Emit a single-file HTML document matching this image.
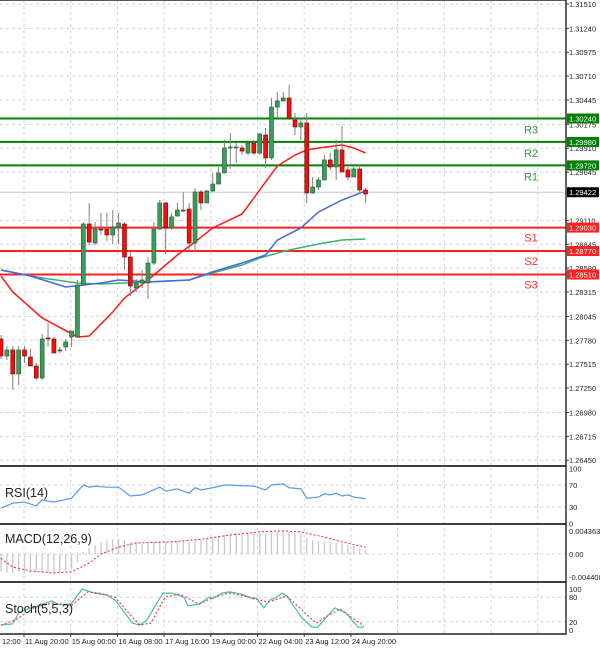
<!DOCTYPE html>
<html><head><meta charset="utf-8">
<style>
html,body{margin:0;padding:0;background:#fff;}
svg{display:block;font-family:"Liberation Sans",sans-serif;}
</style></head>
<body>
<svg id="chart" width="600" height="651" viewBox="0 0 600 651" xmlns="http://www.w3.org/2000/svg"></svg>
<script>
// ---- main price data (OHLC per bar) ----
const opens=[1.27795,1.27606,1.27673,1.27407,1.27673,1.27595,1.27495,1.27362,1.27806,1.27795,1.27662,1.27706,1.27817,1.27817,1.28393,1.29070,1.28859,1.29014,1.29014,1.28948,1.29037,1.29070,1.28704,1.28360,1.28416,1.28416,1.28637,1.29014,1.29303,1.29026,1.29159,1.29214,1.29236,1.28859,1.29425,1.29303,1.29436,1.29513,1.29636,1.29913,1.29913,1.29913,1.29857,1.29968,1.29857,1.30057,1.29802,1.30367,1.30434,1.30467,1.30223,1.30146,1.30190,1.29414,1.29480,1.29558,1.29780,1.29702,1.29891,1.29669,1.29591,1.29680,1.29447];
const closes=[1.27606,1.27673,1.27407,1.27673,1.27606,1.27495,1.27362,1.27795,1.27795,1.27639,1.27673,1.27762,1.27883,1.28393,1.29070,1.28870,1.29014,1.29003,1.28948,1.29037,1.29081,1.28704,1.28382,1.28416,1.28449,1.28637,1.29014,1.29303,1.29026,1.29148,1.29225,1.29225,1.28859,1.29425,1.29303,1.29436,1.29513,1.29636,1.29913,1.29924,1.29924,1.29879,1.29968,1.29857,1.30068,1.29802,1.30367,1.30434,1.30467,1.30245,1.30146,1.30190,1.29414,1.29480,1.29558,1.29780,1.29702,1.29891,1.29647,1.29591,1.29680,1.29447,1.29403];
const highs=[1.27839,1.27717,1.27717,1.27717,1.27717,1.27684,1.27529,1.27850,1.27972,1.27817,1.27706,1.27795,1.27883,1.28449,1.29092,1.29303,1.29092,1.29192,1.29192,1.29225,1.29192,1.29092,1.28760,1.28460,1.28560,1.28704,1.29092,1.29336,1.29314,1.29192,1.29303,1.29425,1.29303,1.29469,1.29447,1.29447,1.29636,1.29702,1.30001,1.30079,1.29968,1.29946,1.30001,1.30001,1.30079,1.30135,1.30467,1.30534,1.30534,1.30611,1.30301,1.30245,1.30301,1.29591,1.29591,1.29835,1.29857,1.30001,1.30157,1.29702,1.29702,1.29724,1.29469];
const lows=[1.27572,1.27562,1.27229,1.27284,1.27529,1.27495,1.27340,1.27340,1.27706,1.27639,1.27639,1.27662,1.27706,1.27806,1.28393,1.28837,1.28837,1.28948,1.28881,1.28848,1.28848,1.28560,1.28272,1.28316,1.28360,1.28238,1.28615,1.29003,1.28737,1.29003,1.29148,1.29203,1.28760,1.28760,1.29225,1.29303,1.29425,1.29513,1.29636,1.29680,1.29746,1.29835,1.29835,1.29835,1.29835,1.29691,1.29780,1.30245,1.30434,1.30223,1.30057,1.30001,1.29303,1.29403,1.29447,1.29558,1.29669,1.29558,1.29647,1.29558,1.29591,1.29425,1.29303];
// moving averages (bar index, value)
const maRedIdx=[0,2,7,13,15,19,21,25,30,33,36,41,44,47,50,52,54,58,60,62];
const maRedVal=[1.28493,1.28316,1.28028,1.27817,1.27828,1.28094,1.28249,1.28449,1.28726,1.28870,1.29026,1.29181,1.29447,1.29713,1.29835,1.29891,1.29913,1.29946,1.29913,1.29857];
const maBlueIdx=[0,5,11,17,20,25,32,36,41,45,47,51,54,58,62];
const maBlueVal=[1.28560,1.28493,1.28371,1.28416,1.28449,1.28427,1.28449,1.28539,1.28637,1.28726,1.28892,1.29026,1.29203,1.29336,1.29436];
const maGreenIdx=[0,7,13,17,25,32,36,41,44,49,54,58,62];
const maGreenVal=[1.28560,1.28471,1.28416,1.28404,1.28427,1.28449,1.28527,1.28615,1.28693,1.28782,1.28848,1.28892,1.28904];
// pivot levels
const levelNames=["R3","R2","R1","S1","S2","S3"];
const levelVals=[1.30240,1.29980,1.29720,1.29030,1.28770,1.28510];
const lastPrice=1.29422;
const priceTicks=[1.31510,1.31240,1.30975,1.30710,1.30445,1.30175,1.29910,1.29645,1.29110,1.28845,1.28580,1.28315,1.28045,1.27780,1.27515,1.27250,1.26980,1.26715,1.26450];
const timeLabels=["12:00","11 Aug 20:00","15 Aug 00:00","16 Aug 08:00","17 Aug 16:00","19 Aug 00:00","22 Aug 04:00","23 Aug 12:00","24 Aug 20:00"];
// RSI
const rsiIdx=[0,2,4,6,7,9,12,14,15,16,18,20,22,24,27,28,30,32,33,34,36,38,43,45,46,48,49,51,52,54,55,56,57,58,59,60,62];
const rsiVal=[28,37,39,32,43,39,46,70,66,68,66,66,50,52,66,59,63,55,65,61,65,70,68,61,70,72,65,63,46,48,54,52,55,50,52,48,45];
const rsiTicks=[100,70,30,0];
// MACD
const macdHist=[-0.0033,-0.0035,-0.0036,-0.0034,-0.0036,-0.0036,-0.0035,-0.0033,-0.0034,-0.0035,-0.0034,-0.0032,-0.0028,-0.0015,0.0004,0.0012,0.0017,0.0022,0.0026,0.0028,0.0029,0.0027,0.0022,0.0020,0.0019,0.0020,0.0022,0.0024,0.0022,0.0023,0.0024,0.0025,0.0022,0.0026,0.0027,0.0029,0.0031,0.0033,0.0036,0.0037,0.0038,0.0038,0.0039,0.0038,0.0040,0.0039,0.0042,0.0043,0.0043,0.0042,0.0040,0.0039,0.0030,0.0026,0.0024,0.0024,0.0022,0.0022,0.0020,0.0017,0.0015,0.0011,0.0008];
const macdSigIdx=[0,2,5,9,12,15,17,20,23,29,34,39,44,48,51,55,58,62];
const macdSigVal=[-0.0008,-0.0025,-0.0032,-0.0036,-0.0034,-0.0017,0,0.0013,0.0021,0.0023,0.0028,0.0036,0.0042,0.0044,0.0042,0.0032,0.0023,0.0013];
const macdTicks=["0.004363","0.00","-0.004408"];
// Stochastic
const stKIdx=[0,2,3.1,5.6,8.7,9.5,11.9,13.8,15.8,18,19.4,21.3,22.3,23.6,24.8,26.5,27.6,29.1,31.1,31.8,33.7,35.4,35.9,37.6,38.9,40.8,42.9,43.4,44.7,45.7,46.9,47.8,48.6,51.2,52.9,53.9,55.1,56.8,58.7,60.7,61.7];
const stKVal=[12,15,44,56,71,63,63,100,90,85,73,37,17,12,24,66,90,90,80,59,63,80,76,90,93,88,76,78,54,73,80,90,83,29,7,7,27,54,41,7,7];
const stDIdx=[0,2.4,5.6,8.7,11.9,14.8,16.8,19.4,22.3,23.6,25.5,27.9,30.4,33.7,36.2,38.9,42.9,45.4,48.6,51.9,53.6,55.8,57.7,60,61.7];
const stDVal=[12,24,54,66,59,93,90,80,32,12,17,80,88,63,80,90,78,68,83,39,17,37,51,27,10];
const stTicks=[100,80,20,0];

const NS="http://www.w3.org/2000/svg";
const svg=document.getElementById("chart");
function el(tag,attrs,parent){const e=document.createElementNS(NS,tag);for(const k in attrs)e.setAttribute(k,attrs[k]);(parent||svg).appendChild(e);return e;}
const PR=566; // plot right edge
const xOf=i=>1+i*5.88;
const yP=p=>(1.31554-p)/0.0001109;
const yR=v=>523.5-v*0.55;
const yM=v=>554-v*5271;
const yS=v=>630-v*0.41;

// background grid
const grid=el("g",{});


for(let k=0;k<12;k++){const gx=24+46.7*k;if(gx>PR)break;
 el("line",{x1:gx,y1:0,x2:gx,y2:634,stroke:"#d4d4d4","stroke-dasharray":"3,3","stroke-width":1},grid);}
priceTicks.forEach(t=>el("line",{x1:0,y1:yP(t),x2:PR,y2:yP(t),stroke:"#d4d4d4","stroke-dasharray":"3,3"},grid));
[70,30].forEach(t=>el("line",{x1:0,y1:yR(t),x2:PR,y2:yR(t),stroke:"#d4d4d4","stroke-dasharray":"3,3"},grid));
el("line",{x1:0,y1:yM(0),x2:PR,y2:yM(0),stroke:"#d4d4d4","stroke-dasharray":"3,3"},grid);
[80,20].forEach(t=>el("line",{x1:0,y1:yS(t),x2:PR,y2:yS(t),stroke:"#d4d4d4","stroke-dasharray":"3,3"},grid));

// last price line
const lp=el("line",{x1:0,y1:yP(lastPrice),x2:PR,y2:yP(lastPrice),stroke:"#c8c8c8","stroke-width":1});



// pivot levels
levelVals.forEach((v,i)=>{
 const isR=levelNames[i][0]==="R";
 const col=isR?"#008000":"#ff2020";
 const ln=el("line",{x1:0,y1:yP(v),x2:PR,y2:yP(v),stroke:col,"stroke-width":2});
 
 
 const t=el("text",{x:531,y:yP(v)+(isR?15:14),"font-size":11,fill:isR?"#3a9a3a":"#ff3030","text-anchor":"middle"});
 t.textContent=levelNames[i];
 
 
});

// MAs
function poly(idx,val,col,name){const pts=idx.map((ix,k)=>xOf(ix)+","+yP(val[k])).join(" ");
 const p=el("polyline",{points:pts,fill:"none",stroke:col,"stroke-width":1.5});
 
 }
poly(maGreenIdx,maGreenVal,"#3cb371","ma-green");
poly(maBlueIdx,maBlueVal,"#4169e1","ma-blue");
poly(maRedIdx,maRedVal,"#ff1a1a","ma-red");

// candles
opens.forEach((o,i)=>{
 const c=closes[i],x=xOf(i),up=c>=o;
 const g=el("g",{});
 
 
 el("line",{x1:x,y1:yP(highs[i]),x2:x,y2:yP(lows[i]),stroke:"#808080","stroke-width":1},g);
 const top=yP(Math.max(o,c)),h=Math.max(1,yP(Math.min(o,c))-top);
 el("rect",{x:x-2,y:top,width:4,height:h,fill:up?"#3c9c5c":"#ee1111",stroke:up?"#1e5a30":"#800000","stroke-width":0.6},g);
});

// indicator panels
const rsiPts=rsiIdx.map((ix,k)=>xOf(ix)+","+yR(rsiVal[k])).join(" ");
const rl=el("polyline",{points:rsiPts,fill:"none",stroke:"#5599ee","stroke-width":1.2});



macdHist.forEach((v,i)=>{
 const b=el("line",{x1:xOf(i),y1:yM(0),x2:xOf(i),y2:yM(v),stroke:"#c8c8c8","stroke-width":1.3});
 
 
});
const ms=el("polyline",{points:macdSigIdx.map((ix,k)=>xOf(ix)+","+yM(macdSigVal[k])).join(" "),fill:"none",stroke:"#ff2020","stroke-width":1,"stroke-dasharray":"2,2"});



const sk=el("polyline",{points:stKIdx.map((ix,k)=>xOf(ix)+","+yS(stKVal[k])).join(" "),fill:"none",stroke:"#40c0b0","stroke-width":1.2});


const sd=el("polyline",{points:stDIdx.map((ix,k)=>xOf(ix)+","+yS(stDVal[k])).join(" "),fill:"none",stroke:"#ff2020","stroke-width":1,"stroke-dasharray":"2,2"});



// panel titles
[["RSI(14)",497,"rsi-title"],["MACD(12,26,9)",543,"macd-title"],["Stoch(5,5,3)",613,"stoch-title"]].forEach(a=>{
 const t=el("text",{x:5,y:a[1],"font-size":12.5,fill:"#222"});t.textContent=a[0];
 
 
});

// white axis area and borders
el("rect",{x:PR+1,y:0,width:600-PR,height:651,fill:"#fff"});
el("rect",{x:0,y:635,width:PR,height:16,fill:"#fff"});
[[0,466],[466,524],[524,582],[582,634]].forEach(r=>{
 el("rect",{x:-1,y:r[0],width:PR+1,height:r[1]-r[0],fill:"none",stroke:"#222","stroke-width":1.5});
});
el("line",{x1:PR,y1:0,x2:PR,y2:634,stroke:"#333","stroke-width":1});

// price axis
const ax=el("g",{});


priceTicks.forEach(t=>{
 if(Math.abs(yP(t)-yP(lastPrice))<5)return;
 el("line",{x1:PR,y1:yP(t),x2:PR+3,y2:yP(t),stroke:"#333"},ax);
 const tx=el("text",{x:569,y:yP(t)+3,"font-size":7.5,fill:"#222"},ax);tx.textContent=t.toFixed(5);
});
levelVals.forEach((v,i)=>{
 const isR=levelNames[i][0]==="R";
 const g=el("g",{});
 
 
 el("rect",{x:PR+1,y:yP(v)-5,width:32,height:10,fill:isR?"#008000":"#ff2020"},g);
 const t=el("text",{x:569,y:yP(v)+3,"font-size":7.5,fill:"#fff"},g);t.textContent=v.toFixed(5);
});
const lpg=el("g",{});


el("rect",{x:PR+1,y:yP(lastPrice)-5,width:32,height:10,fill:"#000"},lpg);
const lpt=el("text",{x:569,y:yP(lastPrice)+3,"font-size":7.5,fill:"#fff"},lpg);lpt.textContent=lastPrice.toFixed(5);

rsiTicks.forEach(t=>{const tx=el("text",{x:569,y:yR(t)+3,"font-size":7.5,fill:"#222"});tx.textContent=t;
 
 });
[[0.004363,0],[0,1],[-0.004408,2]].forEach(a=>{const tx=el("text",{x:569,y:yM(a[0])+3,"font-size":7.5,fill:"#222"});tx.textContent=macdTicks[a[1]];
 
 });
stTicks.forEach(t=>{const tx=el("text",{x:569,y:yS(t)+3,"font-size":7.5,fill:"#222"});tx.textContent=t;
 
 });

// time axis
timeLabels.forEach((s,k)=>{
 const gx=k===0?1:24+46.7*(k-1);
 const tx=el("text",{x:gx+1,y:644,"font-size":7.5,fill:"#222"});tx.textContent=s;
 
 
 if(k>0)el("line",{x1:gx,y1:634,x2:gx,y2:637,stroke:"#333"});
});
</script>
</body></html>
